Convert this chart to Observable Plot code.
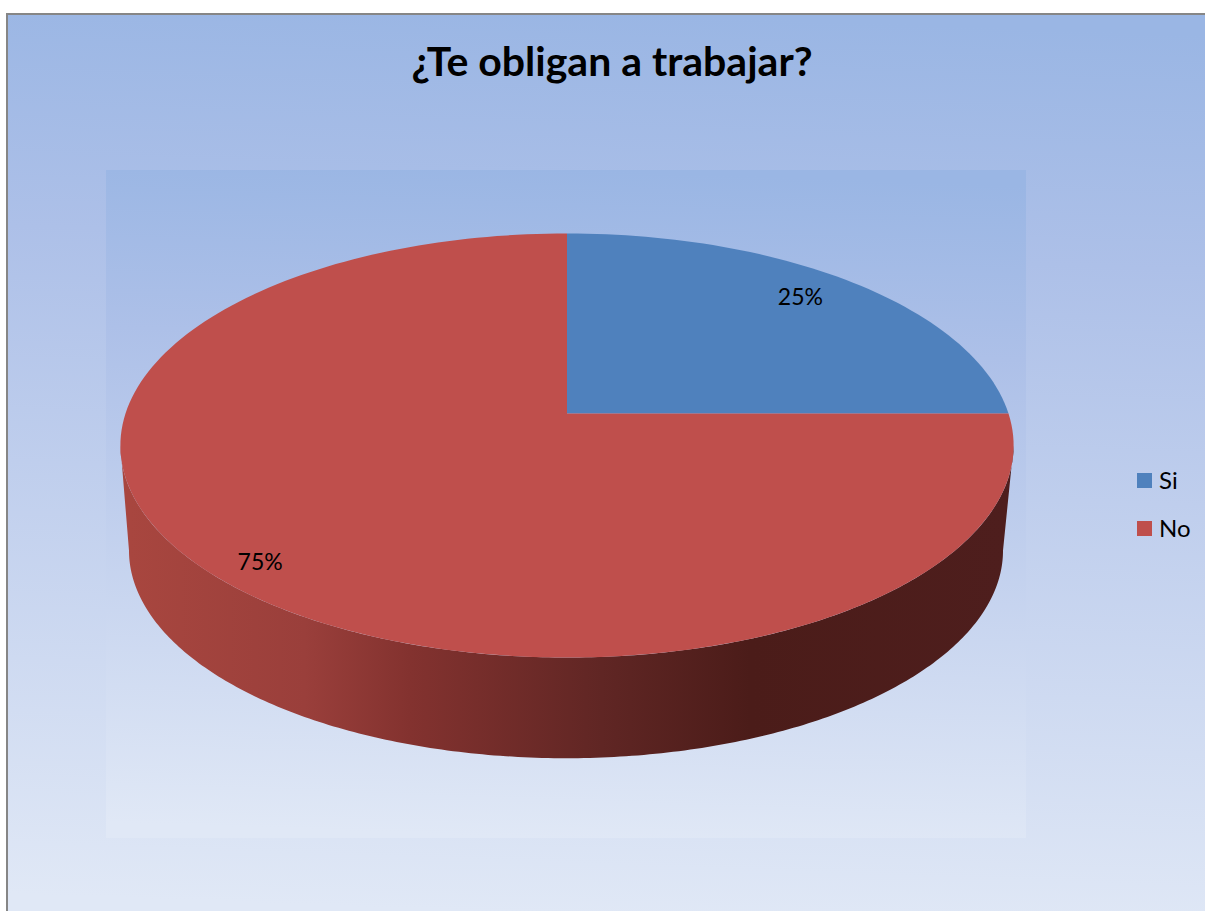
<!DOCTYPE html>
<html>
<head>
<meta charset="utf-8">
<script src="https://cdn.jsdelivr.net/npm/d3@7"></script>
<script src="https://cdn.jsdelivr.net/npm/@observablehq/plot@0.6"></script>
<style>html,body{margin:0;padding:0;background:#fff}svg{display:block}</style>
</head>
<body>
<script>
const chartTitle = "¿Te obligan a trabajar?";
const categories = ["Si", "No"];
const percents = [25, 75];
const sliceColors = ["#4F81BD", "#BF4F4C"];
const wallColors = ["#A8463F", "#9A3F3B", "#83322F", "#602624", "#4B1C19", "#4E1E1D"];
const wallOffsets = [0, 0.2, 0.32, 0.54, 0.71, 1];
const bgColors = ["#9AB6E4", "#ADC0E8", "#E0E8F6"];
const bgOffsets = [0, 0.26, 1];

const W = 1205, H = 911;
// Perspective of the pie disc: unit circle -> screen
const tilt = 0.151;
const topFace = {cx: 566.5, cy: 413, c: 441.5, a: 207.2};
const bottomFace = {cx: 565.5, cy: 518.6, c: 432, a: 203};
const project = (f, u, v) => {
  const k = 1 + tilt * v;
  return {x: f.cx + f.c * u / k, y: f.cy - f.a * v / k};
};
const atAngle = (f, t, r = 1) => project(f, r * Math.sin(t), r * Math.cos(t));

const slices = d3.pie().sort(null).startAngle(0).endAngle(2 * Math.PI)(percents);
const STEPS = 240;
const outline = (s, i) => {
  const pts = [{...project(topFace, 0, 0), key: categories[i]}];
  const n = Math.ceil(STEPS * (s.endAngle - s.startAngle) / (2 * Math.PI));
  for (let j = 0; j <= n; ++j) {
    pts.push({...atAngle(topFace, s.startAngle + (s.endAngle - s.startAngle) * j / n), key: categories[i]});
  }
  return pts;
};
const facePoints = slices.flatMap(outline);

// Side wall between the two extreme points of the visible rim
const rimA = Math.PI / 2 + Math.asin(tilt), rimB = 3 * Math.PI / 2 - Math.asin(tilt);
const rim = d3.range(STEPS + 1).map(j => rimA + (rimB - rimA) * j / STEPS);
const wallPoints = [
  ...rim.map(t => atAngle(topFace, t)),
  ...rim.slice().reverse().map(t => atAngle(bottomFace, t))
];

const labelRadius = i => (i === 0 ? 0.82 : 0.9);
const labelNudge = i => (i === 0 ? {dx: -2, dy: -5} : {dx: 4, dy: 3});
const labels = slices.map((s, i) => {
  const mid = (s.startAngle + s.endAngle) / 2;
  const p = atAngle(topFace, mid, labelRadius(i));
  const n = labelNudge(i);
  return {x: p.x + n.dx, y: p.y + n.dy, text: percents[i] + "%"};
});

const legendRows = categories.map((name, i) => ({name, color: sliceColors[i], y: 481 + i * 48}));

const gradient = (defs, id, attrs, colors, offsets) => {
  const g = defs.append("linearGradient").attr("id", id);
  Object.entries(attrs).forEach(([k, v]) => g.attr(k, v));
  colors.forEach((c, i) => g.append("stop").attr("offset", offsets[i]).attr("stop-color", c));
};
const defsMark = () => {
  const defs = d3.create("svg:defs");
  const tiltBg = {x1: "0.525", y1: "0", x2: "0.475", y2: "1"};
  gradient(defs, "bgOuter", tiltBg, bgColors, bgOffsets);
  gradient(defs, "bgInner", tiltBg, bgColors, bgOffsets);
  gradient(defs, "wall", {gradientUnits: "userSpaceOnUse", x1: 130, y1: 0, x2: 1003, y2: 0}, wallColors, wallOffsets);
  return defs.node();
};

const font = "Lato, 'Open Sans', sans-serif";

const chart = Plot.plot({
  width: W, height: H,
  margin: 0,
  x: {domain: [0, W], range: [0, W], axis: null},
  y: {domain: [0, H], range: [0, H], axis: null},
  style: {background: "#fff", overflow: "hidden"},
  marks: [
    defsMark,
    Plot.rect([0], {x1: 7, x2: W + 4, y1: 14, y2: H + 4, fill: "url(#bgOuter)", stroke: "#868686", strokeWidth: 2}),
    Plot.rect([0], {x1: 106, x2: 1026, y1: 170, y2: 838, fill: "url(#bgInner)"}),
    Plot.line(wallPoints, {x: "x", y: "y", fill: "url(#wall)", stroke: "none", curve: "linear-closed"}),
    Plot.line(facePoints, {x: "x", y: "y", z: "key", fill: "key", stroke: "none", curve: "linear-closed"}),
    Plot.text(labels, {x: "x", y: "y", text: "text", fontSize: 23, fontFamily: font, fill: "#000", textAnchor: "middle", lineAnchor: "middle"}),
    Plot.text([chartTitle], {x: 611.5, y: 62, text: d => d, fontSize: 41, fontWeight: 700, fontFamily: font, fill: "#000", textAnchor: "middle", lineAnchor: "middle"}),
    Plot.rect(legendRows, {x1: 1137, x2: 1152, y1: d => d.y - 8, y2: d => d.y + 7, fill: "color"}),
    Plot.text(legendRows, {x: 1158.5, y: "y", text: "name", fontSize: 24, fontFamily: font, fill: "#000", textAnchor: "start", lineAnchor: "middle"})
  ],
  color: {domain: [...categories, ...sliceColors], range: [...sliceColors, ...sliceColors]}
});
document.body.appendChild(chart);
</script>
</body>
</html>
